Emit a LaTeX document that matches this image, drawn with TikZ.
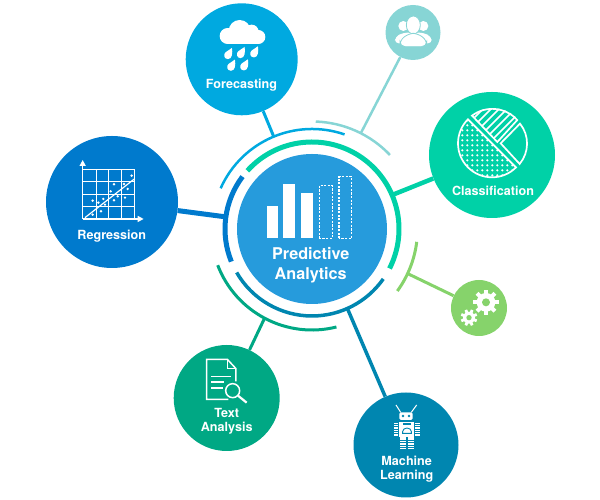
\documentclass[tikz,border=0pt]{standalone}
\usepackage{fontspec}
\setsansfont{TeX Gyre Heros}
\usepackage{xcolor}
\usetikzlibrary{arrows.meta}
\definecolor{coreBlue}{HTML}{269BDC}
\definecolor{foreBlue}{HTML}{00A9E0}
\definecolor{regrBlue}{HTML}{007ACD}
\definecolor{clasGreen}{HTML}{00D1A7}
\definecolor{crowdTeal}{HTML}{87D5D5}
\definecolor{gearGreen}{HTML}{86D36B}
\definecolor{textGreen}{HTML}{00A884}
\definecolor{machBlue}{HTML}{0086B0}
\tikzset{
x=1pt,y=1pt,
hub/.style 2 args={%
    circle,
    inner sep=0pt,
    fill=#1,
    minimum size=#2pt,
},
caption/.style={%
    text=white,
    align=center,
    inner sep=0pt,
    font=\sffamily\bfseries\fontsize{12.6}{14.4}\selectfont,
},
bigcaption/.style={%
    caption,
    font=\sffamily\bfseries\fontsize{16.2}{20}\selectfont,
},
ring/.style={line width=#1pt},
link/.style={line width=#1pt},
% icons are drawn in the 3x pixels of their own crop
zoomed/.style 2 args={shift={(#1,#2)},x=0.3333pt,y=-0.3333pt,color=white},
}

\begin{document}
\begin{tikzpicture}
\useasboundingbox (0,0) rectangle (600,500);

\node[hub={coreBlue}{150}] (core) at (312,271) {};
\node[hub={foreBlue}{112}] (fore) at (241.7,440.7) {};
\node[hub={regrBlue}{132}] (regr) at (112,298) {};
\node[hub={crowdTeal}{55}] (crowd) at (413,467.5) {};
\node[hub={clasGreen}{126}] (clas) at (492,345) {};
\node[hub={gearGreen}{56}] (gear) at (479,192) {};
\node[hub={textGreen}{106}] (text) at (226.7,102) {};
\node[hub={machBlue}{105}] (mach) at (406,55) {};

% rings round the core
\draw[ring=5,clasGreen] ([shift={(138:87)}]core.center) arc[start angle=138,end angle=-27,radius=87];
\draw[ring=5,regrBlue] ([shift={(143:87)}]core.center) arc[start angle=143,end angle=202,radius=87];
\draw[ring=3.5,machBlue] ([shift={(210:87)}]core.center) arc[start angle=210,end angle=325,radius=87];
\draw[ring=2.5,foreBlue] ([shift={(71:100)}]core.center) arc[start angle=71,end angle=156,radius=100];
\draw[ring=3,textGreen] ([shift={(201:101)}]core.center) arc[start angle=201,end angle=284,radius=101];
\draw[ring=2.5,crowdTeal] ([shift={(88:107.5)}]core.center) arc[start angle=88,end angle=43.5,radius=107.5];
\draw[ring=3,gearGreen] ([shift={(-7:105.5)}]core.center) arc[start angle=-7,end angle=-36,radius=105.5];

\coordinate (foreJoin) at ([shift={(112.5:100)}]core.center);
\coordinate (regrJoin) at ([shift={(172:87)}]core.center);
\coordinate (clasJoin) at ([shift={(23:87)}]core.center);
\coordinate (crowdJoin) at ([shift={(63:107.5)}]core.center);
\coordinate (gearJoin) at ([shift={(-25:105.5)}]core.center);
\coordinate (textJoin) at ([shift={(242:101)}]core.center);
\coordinate (machJoin) at ([shift={(-66:87)}]core.center);

\draw[link=3,foreBlue] (fore) -- (foreJoin);
\draw[link=5,regrBlue] (regr) -- (regrJoin);
\draw[link=4.5,clasGreen] (clas) -- (clasJoin);
\draw[link=2.5,crowdTeal] (crowd) -- (crowdJoin);
\draw[link=3,gearGreen] (gear) -- (gearJoin);
\draw[link=3,textGreen] (text) -- (textJoin);
\draw[link=3.5,machBlue] (mach) -- (machJoin);

\node[bigcaption] (coreText) at (310.7,235.2) {Predictive\\Analytics};
\node[caption] (foreText) at (241.5,414.7) {Forecasting};
\node[caption] (regrText) at (111.8,263.9) {Regression};
\node[caption] (clasText) at (493,309) {Classification};
\node[caption] (textText) at (226.7,79) {Text\\Analysis};
\node[caption] (machText) at (406.7,31) {Machine\\Learning};

% core bars
\begin{scope}[zoomed={200}{390}]
\fill (200,287) rectangle (235,385);
\fill (250,222) rectangle (285,385);
\fill (303,248) rectangle (340,385);
\draw[line width=1.6pt,dash pattern=on 2.2pt off 1.4pt] (358,385) rectangle (397,227);
\draw[line width=1.6pt,dash pattern=on 2.2pt off 1.4pt] (417,385) rectangle (455,200);
\end{scope}

% cloud
\begin{scope}[zoomed={215}{485}]
\fill (38,63) circle[radius=24];
\fill (74,48) circle[radius=33];
\fill (110,50) circle[radius=21];
\fill (130,66) circle[radius=21];
\fill (38,60) rectangle (130,87);
\foreach \dropx/\dropy in {40/118,78/115,118/113,49/153,88/152}
    \fill[shift={(\dropx,\dropy)},scale=1.2] (9,-16) .. controls (11,-4) and (10,12) .. (-1,12) .. controls (-11,12) and (-13,0) .. (-7,-5) -- cycle;
\end{scope}

% scatter plot
\begin{scope}[zoomed={40}{500}]
\draw[line width=0.8pt] (130,508) -- (283,508) -- (283,657);
\foreach \gridx in {168,206,245}
    \draw[line width=0.8pt] (\gridx,508) -- (\gridx,657);
\foreach \gridy in {545,583,620}
    \draw[line width=0.8pt] (130,\gridy) -- (283,\gridy);
\draw[line width=1.4pt,-{Triangle[width=6pt,length=6pt]}] (128,657) -- (128,480);
\draw[line width=1.4pt,-{Triangle[width=6pt,length=6pt]}] (128,657) -- (311,657);
\draw[line width=1.2pt] (135,653) -- (283,537);
\foreach \dotx/\doty in {275/527,222/553,252/552,263/567,212/574,190/597,233/589,255/593,158/602,175/608,222/601,195/614,183/634,158/644}
    \fill (\dotx,\doty) circle[radius=4];
\end{scope}

% pie
\begin{scope}[zoomed={452}{400},line width=1.7pt]
\begin{scope}
\clip (120,130) ++(45:100) arc[start angle=45,end angle=225,radius=100] -- cycle;
\foreach \dotx in {16,31,...,198}
    \foreach \doty in {46,61,...,238}
        \fill (\dotx,\doty) circle[radius=3.6];
\end{scope}
\draw (120,130) ++(45:102) arc[start angle=45,end angle=225,radius=102] -- cycle;
\begin{scope}
\clip (136,126) -- ++(-76,-81) arc[start angle=233,end angle=318,radius=103] -- cycle;
\foreach \hatch in {120,144,...,288}
    \draw (\hatch,0) -- (0,\hatch);
\end{scope}
\draw (136,126) -- (60,47) arc[start angle=233,end angle=318,radius=101] -- cycle;
\draw (146,130) -- (204,71) arc[start angle=-39,end angle=40,radius=95] -- cycle;
\end{scope}

% crowd
\begin{scope}[zoomed={390}{490}]
\fill (40,48) circle[radius=15];
\fill (100,48) circle[radius=15];
\fill[rounded corners=4pt] (14,100) -- (16,80) -- (40,68) -- (100,68) -- (124,80) -- (126,100) -- cycle;
\filldraw[draw=crowdTeal,line width=0.8pt,fill=white] (70,45) ellipse[x radius=21,y radius=27];
\filldraw[draw=crowdTeal,line width=0.8pt,fill=white,rounded corners=5pt] (30,110) -- (30,90) -- (58,70) -- (82,70) -- (110,90) -- (110,110) -- cycle;
\end{scope}

% gears
\begin{scope}[zoomed={455}{215}]
\begin{scope}[shift={(93,52)}]
\fill (0,0) circle[radius=28];
\foreach \tooth in {0,45,...,315}
    \draw[line width=4pt] (\tooth:20) -- (\tooth:38);
\fill[gearGreen] (0,0) circle[radius=12];
\end{scope}
\begin{scope}[shift={(42,98)}]
\fill (0,0) circle[radius=18];
\foreach \tooth in {22.5,67.5,...,337.5}
    \draw[line width=2.8pt] (\tooth:12) -- (\tooth:25);
\fill[gearGreen] (0,0) circle[radius=8];
\end{scope}
\end{scope}

% document
\begin{scope}[zoomed={200}{148},line width=1.5pt]
\draw (85,142) -- (20,142) -- (20,22) -- (82,22) -- (108,50) -- (108,88);
\draw (82,22) -- (82,50) -- (108,50);
\draw (33,73) -- (92,73);
\draw (33,90) -- (72,90);
\draw (33,108) -- (68,108);
\draw (98,116) circle[radius=21];
\draw[line width=2.2pt] (114,131) -- (140,152);
\end{scope}

% robot
\begin{scope}[zoomed={340}{120}]
\draw[line width=1pt] (182,97) -- (168,75);
\draw[line width=1pt] (214,97) -- (230,75);
\fill[rounded corners=1.5pt] (178,97) rectangle (218,120);
\fill[machBlue] (189,108) circle[radius=4];
\fill[machBlue] (207,108) circle[radius=4];
\fill (178,125) rectangle (222,170);
\fill[machBlue] (188,128) rectangle (212,135);
\draw[machBlue,line width=0.9pt] (188,160) -- (188,155) arc[start angle=180,end angle=360,x radius=13,y radius=11] -- (214,160) -- cycle;
\foreach \stripe in {128,135,...,163} {
    \fill (163,\stripe) rectangle (175,\stripe+4.5);
    \fill (225,\stripe) rectangle (240,\stripe+4.5);
}
\fill (180,172) rectangle (197,180);
\fill (203,172) rectangle (222,180);
\foreach \stripe in {183,190,...,204} {
    \fill (180,\stripe) rectangle (197,\stripe+4.5);
    \fill (203,\stripe) rectangle (222,\stripe+4.5);
}
\end{scope}
\end{tikzpicture}
\end{document}
